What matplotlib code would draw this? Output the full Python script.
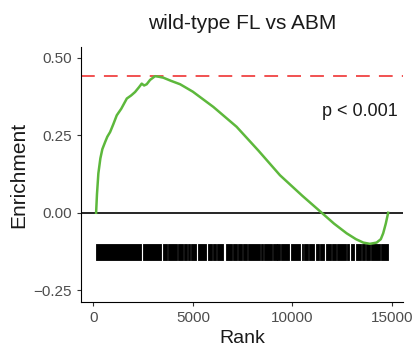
import matplotlib.pyplot as plt

plt.rcParams['font.family'] = ['Liberation Sans', 'DejaVu Sans']

# running enrichment score
rank = [136, 180, 250, 350, 450, 590, 700, 840, 1000, 1175, 1400, 1680, 1900,
        2095, 2300, 2430, 2550, 2680, 2850, 3100, 3300, 3520, 3900, 4360,
        5000, 6030, 7200, 8300, 9380, 10500, 11480, 12100, 12730, 13200,
        13570, 13900, 14240, 14450, 14570, 14700, 14820]
es = [0.0, 0.06, 0.127, 0.175, 0.205, 0.228, 0.245, 0.26, 0.285, 0.314,
      0.335, 0.368, 0.378, 0.389, 0.405, 0.416, 0.41, 0.414, 0.428, 0.44,
      0.438, 0.435, 0.425, 0.414, 0.39, 0.341, 0.277, 0.2, 0.121, 0.055,
      0.0, -0.035, -0.066, -0.085, -0.096, -0.1, -0.096, -0.085, -0.066,
      -0.035, 0.0]

# black runs of the hit barcode (start, end rank)
hit_start = [136, 2472, 3477, 3754, 4256, 4533, 4759, 4909, 5236, 5739, 5990,
             6191, 6668, 6995, 7246, 7497, 7749, 8427, 8578, 9005, 9256, 9432,
             9934, 10487, 10588, 10839, 11191, 11417, 11693, 12020, 12271,
             12774, 12950, 13201, 13527, 13703, 13954, 14456]
hit_end = [2397, 3402, 3703, 4206, 4482, 4708, 4859, 5161, 5663, 5940, 6141,
           6517, 6945, 7196, 7447, 7698, 8352, 8518, 8955, 9206, 9382, 9859,
           10412, 10537, 10789, 11115, 11341, 11618, 11970, 12221, 12723,
           12874, 13126, 13477, 13653, 13904, 14406, 14834]

max_es = 0.441
p_text = "p < 0.001"

fig = plt.figure(figsize=(4.19, 3.56), dpi=100)
ax = fig.add_axes([0.193, 0.152, 0.769, 0.716])

ax.axhline(0, color='black', lw=1.2, zorder=1)
ax.axhline(max_es, color='#ee2222', lw=1.1, ls=(0, (9, 6)), zorder=1)
ax.broken_barh([(s, e - s) for s, e in zip(hit_start, hit_end)], (-0.152, 0.052),
               facecolors='black', edgecolors='black', linewidth=0.6, zorder=2)
ax.plot(rank, es, color='#5db83c', lw=1.8, zorder=3)
ax.text(15300, 0.325, p_text, ha='right', va='center', fontsize=13, color='#1a1a1a')

ax.set_xlim(-630, 15570)
ax.set_ylim(-0.287, 0.534)
ax.set_xticks([0, 5000, 10000, 15000])
ax.set_yticks([-0.25, 0, 0.25, 0.5])
ax.set_yticklabels(['\u22120.25', '0.00', '0.25', '0.50'])
ax.tick_params(labelsize=11, labelcolor='#4d4d4d', color='#333333', length=3)
for s in ['top', 'right']:
    ax.spines[s].set_visible(False)
ax.set_xlabel("Rank", fontsize=14, color='#1a1a1a')
ax.set_ylabel("Enrichment", fontsize=15, color='#1a1a1a')
ax.set_title("wild-type FL vs ABM", fontsize=15, color='#1a1a1a', pad=13)

fig.savefig("out.png", dpi=100)
